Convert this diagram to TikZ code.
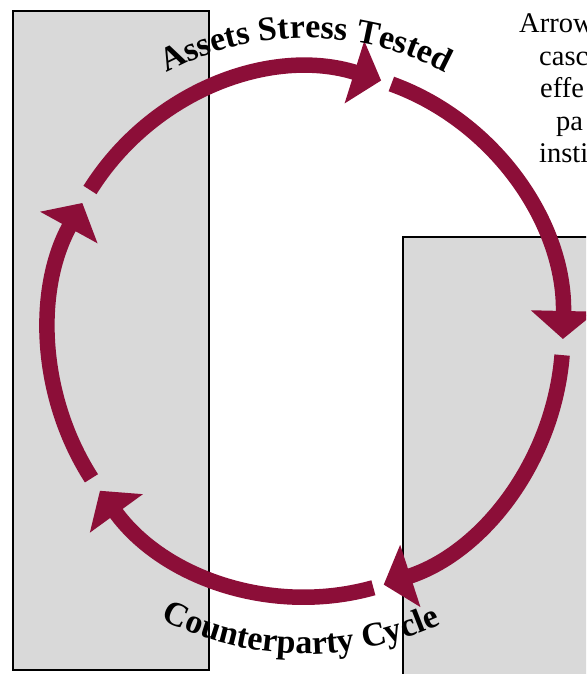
\documentclass[tikz,border=0pt]{standalone}
\usepackage{fontspec}
\setmainfont{Liberation Serif}
\usetikzlibrary{arrows.meta,decorations.text,calc}
\definecolor{maroon}{RGB}{140,14,56}
\definecolor{boxgray}{RGB}{217,217,217}
\begin{document}
\begin{tikzpicture}[
  x=1pt,y=1pt,
  panel/.style={draw=black,line width=2pt,fill=boxgray,inner sep=0pt,anchor=south west},
  cyc/.style={draw=maroon,line width=15.5pt,-{Triangle[length=28pt,width=64pt]}},
  note/.style={anchor=base west,inner sep=0pt,font=\fontsize{28.5}{32}\selectfont},
  lbl/.style={decorate,decoration={text along path,text align=center,
      text={|\bfseries\fontsize{34}{34}\selectfont|#1}}}
]
\useasboundingbox (0,0) rectangle (586,674);
\clip (0,0) rectangle (586,674);
\fill[white] (0,0) rectangle (586,674);
% panels
\node[panel,minimum width=196pt,minimum height=659pt] (lbox) at (12,3) {};
\node[panel,minimum width=220pt,minimum height=460pt] (rbox) at (402,-24) {};
% cycle centre
\coordinate (c) at (306,341);
\coordinate (s1) at ($(c)+(147.2:257pt and 264pt)$);
\coordinate (s2) at ($(c)+(70.6:257pt and 264pt)$);
\coordinate (s3) at ($(c)+(-4.8:257pt and 264pt)$);
\coordinate (s4) at ($(c)+(-74.8:257pt and 264pt)$);
\coordinate (s5) at ($(c)+(213.4:257pt and 264pt)$);
\draw[cyc] (s1) arc[start angle=147.2,end angle=73,x radius=257pt,y radius=264pt];
\draw[cyc] (s2) arc[start angle=70.6,end angle=-1.3,x radius=257pt,y radius=264pt];
\draw[cyc] (s3) arc[start angle=-4.8,end angle=-72.4,x radius=257pt,y radius=264pt];
\draw[cyc] (s4) arc[start angle=-74.8,end angle=-143.3,x radius=257pt,y radius=264pt];
\draw[cyc] (s5) arc[start angle=213.4,end angle=150.5,x radius=257pt,y radius=264pt];
% curved labels
\coordinate (ts) at ($(c)+(128:295pt)$);
\coordinate (bs) at ($(c)+(-129:321pt)$);
\path[lbl={Assets Stress Tested}] (ts) arc[start angle=128,end angle=52,radius=295pt];
\path[lbl={Counterparty Cycle}] (bs) arc[start angle=-129,end angle=-53,radius=321pt];
% note at top right (cut by the picture edge)
\node[note] (n1) at (519,641) {Arrow};
\node[note] (n2) at (539,608) {casca};
\node[note] (n3) at (540,576) {effe};
\node[note] (n4) at (556,543) {pa};
\node[note] (n5) at (539,511) {insti};
\end{tikzpicture}
\end{document}
